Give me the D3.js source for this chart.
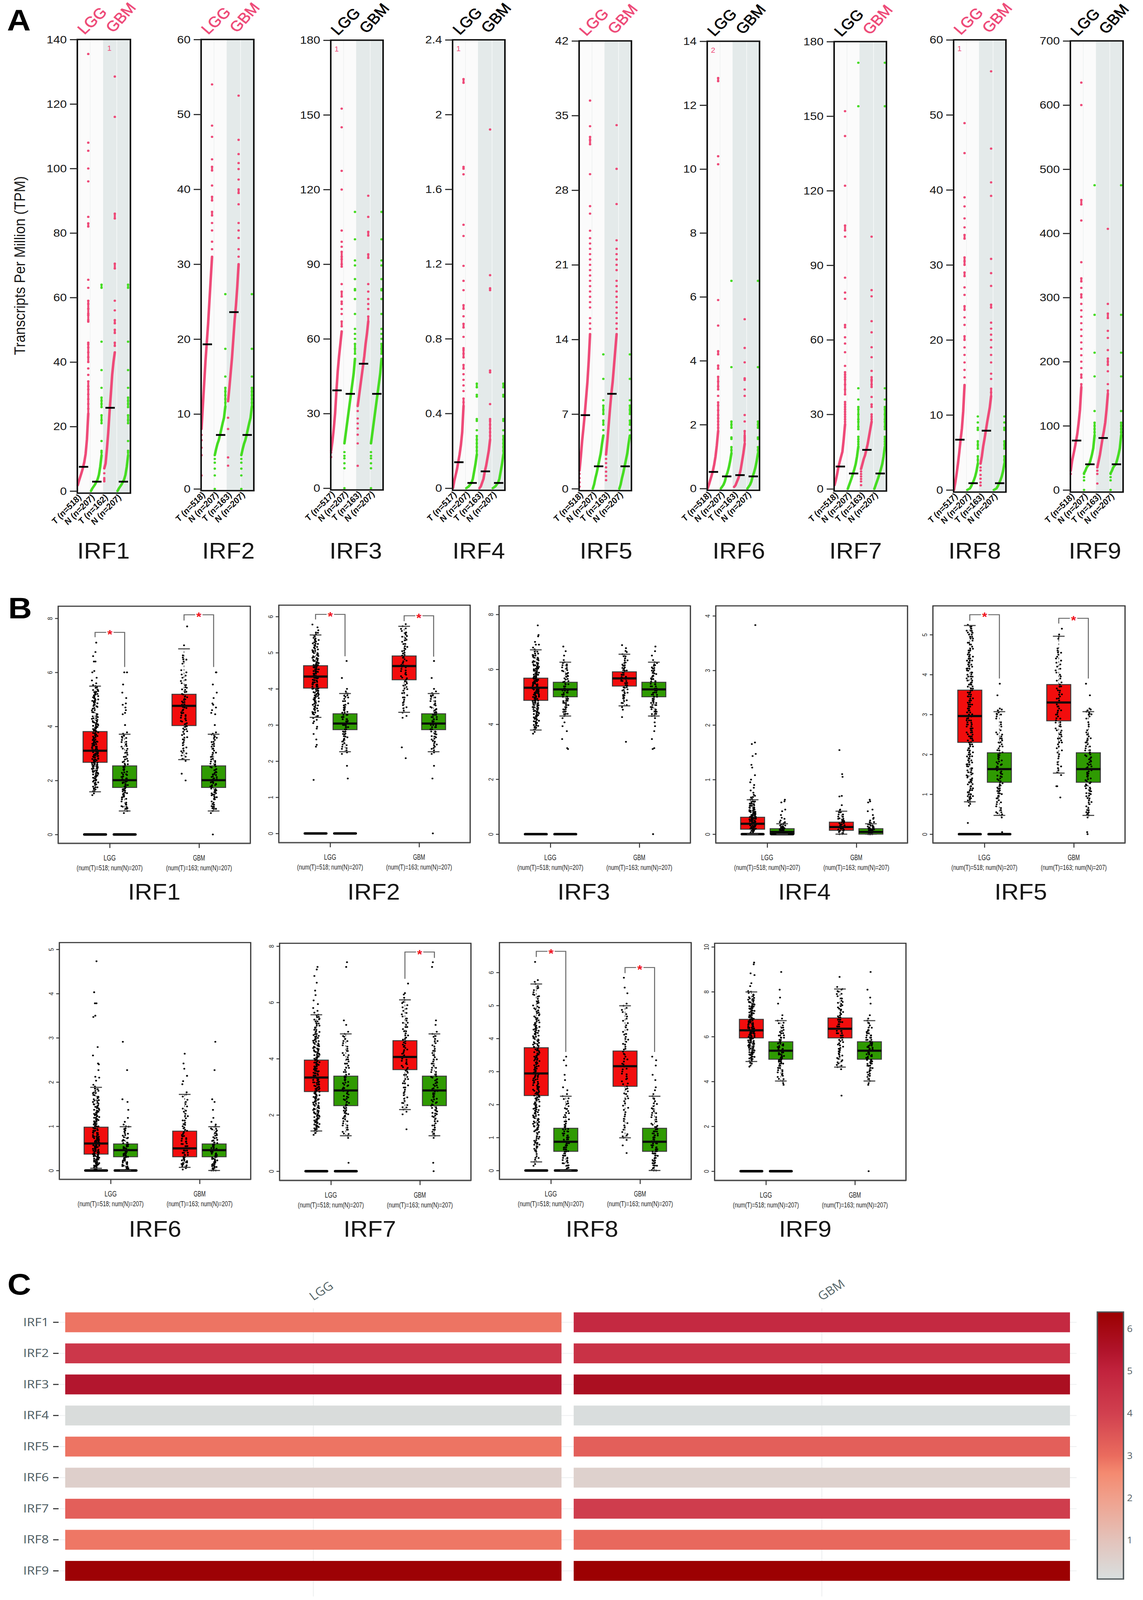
<!DOCTYPE html>
<html lang="en">
<head>
<meta charset="UTF-8">
<title>IRF expression in LGG and GBM</title>
<script src="https://cdn.jsdelivr.net/npm/d3@7"></script>
<style>
    html, body { margin: 0; padding: 0; background: #fff; overflow: hidden; }
    svg { display: block; width: 100vw; height: 100vh; }
    text { font-family: "Liberation Sans", sans-serif; }
</style>
</head>
<body>
<!-- the figure always fills the window, even if the window comes out shorter than asked -->
<svg id="fig" viewBox="0 0 2927 4500" preserveAspectRatio="none"></svg>
<script>
const genes = ["IRF1", "IRF2", "IRF3", "IRF4", "IRF5", "IRF6", "IRF7", "IRF8", "IRF9"];

// panel A: y axis of each dot plot
const tpmMax = [140, 60, 180, 2.4, 42, 14, 180, 60, 700];
const tpmStep = [20, 10, 30, 0.4, 7, 2, 30, 10, 100];
const nLggT = [518, 518, 517, 517, 518, 518, 518, 517, 518];
const nGbmT = [162, 163, 163, 163, 163, 163, 163, 163, 163];
const nNormal = 207;
const sigLgg = [1, 1, 0, 0, 1, 0, 0, 1, 0];
const sigGbm = [1, 1, 0, 0, 1, 0, 1, 1, 0];
const tpmMedianLggT = [7.5, 19.3, 39.3, 0.139, 6.9, 0.52, 9, 6.7, 77];
const tpmMedianNormal = [2.9, 7.2, 37.9, 0.028, 2.1, 0.38, 6.2, 0.9, 40];
const tpmMedianGbmT = [25.8, 23.6, 50, 0.09, 8.9, 0.42, 15.7, 7.9, 81];
// [lone low dots, nine values, dots above the curve]
const dotLggT = [
  [[], [1.8,3.2,4.5,5.8,7.2,9,11.5,16,24], [25.5,27,28.5,30,31.5,32.5,34,36,38,40,41.5,43,44.5,45.5,46,52.5,53,54.5,55,56.5,58,59,63,65.5,82,83,85,96,100,105.5,108,135.5]],
  [[1.8,4.5,5.5,6.5,7.2], [8,11,14,17,19.5,22,25,28,31], [32,33,34.5,35.5,36.5,37,38.5,39,40.5,42.5,43,44,47,48.5,54]],
  [[12.5,14.3], [15,19,24,30,39,47,53,58,63], [65,67,70,72,74,75,77,79,82,89,90,92,93,95,97,99,103.5,120,127.5,145,152.5]],
  [[], [0,0.04,0.07,0.1,0.14,0.18,0.23,0.3,0.44], [0.46,0.48,0.52,0.55,0.58,0.61,0.64,0.66,0.7,0.72,0.74,0.75,0.81,0.86,0.88,0.92,0.96,0.98,1.06,1.11,1.19,1.35,1.41,1.68,1.71,1.72,2.17,2.19]],
  [[0.2,0.6,1,1.4], [1.7,3,4.5,5.7,7,8.5,10,12,14.5], [15,15.5,16,17,17.5,18,18.5,19,19.5,20,20.5,21,21.5,22,22.5,23,23.5,24.2,25.8,26.5,29.5,32.3,32.7,33,34,36.4]],
  [[], [0,0.12,0.26,0.4,0.55,0.75,1,1.35,1.8], [1.9,2,2.1,2.2,2.3,2.45,2.6,2.7,2.9,3.1,3.2,3.35,3.5,3.75,3.85,4.2,4.3,5.1,5.9,10.15,10.4,12.75,12.85]],
  [[], [1.5,3.5,6,8.9,11,13,15,20,26], [27,28,29,30,31,32,33,34,35,38,40,42,44,45,46,47,49.5,55,58.5,61,65,66,76.5,79,85,101.5,104,106,122,142,152]],
  [[], [0,1,2.2,3.5,5,6.7,8.2,10.5,14], [15,16,17,18,19,20,20.5,22,23,24,24.5,26,27,28.5,29,30,30.5,31,33.5,34,35,36.2,37.8,39,44.9,48.9]],
  [[25], [30,45,55,65,76,88,105,125,160], [165,175,180,190,200,210,220,230,240,250,260,270,280,290,300,305,315,325,330,355,420,445,452,600,635]]
];
const dotNormal = [
  [[], [0,0.8,1.4,2,2.8,3.6,5,7.5,11], [12,12.5,15.5,21,22,23.5,26,27,28,29,32,37.5,46.3,63,64]],
  [[0,1.8,2.7,3.5,4], [4.5,5.3,6,6.5,7.2,8,8.8,9.5,11], [11.5,12,12.5,13,13.5,15,18.7,26]],
  [[0,8,10,12,13,14.5], [18,22,26,30,34,38,42,46,52], [54,56,58,60,62,64,70,76,79.5,80,84,89.5,91.5,100,111]],
  [[], [0,0.005,0.01,0.02,0.03,0.05,0.09,0.13,0.18], [0.2,0.22,0.24,0.26,0.28,0.31,0.36,0.37,0.49,0.5,0.54,0.56]],
  [[], [0,0.4,1,1.5,2.1,2.7,3.3,4.2,5], [5.5,6,6.4,7,7.4,7.8,8.3,10.3,12.6]],
  [[], [0,0.06,0.12,0.22,0.38,0.5,0.65,0.85,1.1], [1.2,1.3,1.55,1.6,1.9,2,2.1,3.8,6.5]],
  [[], [0,1.5,3,4.5,6.2,8,10,13,17], [18,19,20,21,24,25,27,28,30,32,33,36,40.5,154,171.5]],
  [[], [0,0.1,0.2,0.5,0.9,1.3,1.8,2.5,3.5], [4,4.5,5.5,6,6.5,8,8.3,9,9.8]],
  [[0,15,20,25], [26,30,35,38,40,47,55,65,85], [90,95,100,105,123,177,214,273,475]]
];
const dotGbmT = [
  [[3,3.5,4,5.5], [7,8.5,13,18,24.5,30,36,40,43], [45,46,49,50,52,53,56,59,69,70.5,84.5,86,116,128.5]],
  [[3.1,4.2,8,9.5], [11.7,13.5,15.5,17.5,20,22.5,24.5,27,30], [31,32,33.5,34.5,35.5,38,39.5,40,41.3,42.7,43.5,44.7,46.6,52.5]],
  [[9,18,21.5,24,26,28,31], [33,37,41,45,49,53,58,62,67], [69,72,74,76,79,82,92.5,94,101.5,103,109,117.5]],
  [[], [0,0.01,0.03,0.05,0.09,0.12,0.16,0.2,0.26], [0.28,0.3,0.32,0.34,0.36,0.37,0.45,0.62,0.63,1.06,1.07,1.14,1.92]],
  [[0.8,1.2,1.6,2,2.4,2.8], [3.2,4.5,6,7.5,8.9,10,11.5,13,14.5], [15,15.5,16,16.5,17,17.5,18,18.5,19,19.5,20.5,21,21.5,22,22.5,23.3,26.7,30,34.1]],
  [[], [0.05,0.1,0.2,0.3,0.42,0.6,0.85,1.1,1.4], [1.5,1.55,1.6,1.65,1.8,2.1,2.3,2.9,3.1,3.4,3.45,3.95,4.4,5.3]],
  [[1.5,3,4,5,6,7], [8,10,12,13.5,15.7,18,21,24,27], [28,29,30,33,34,37,41,42,43.5,44,45,47.5,53,57,63,67.5,77.5,80,101.5]],
  [[0.6,1,1.5,2,2.6,3], [3.5,4.5,5.8,6.8,7.9,9,10,11,12.5], [13,13.5,14.8,15.5,17,18,19,20,20.7,21.5,22.3,24.3,24.7,27.2,28.9,30.8,39.2,41,45.5,55.8]],
  [[10,25,30], [35,45,55,68,81,92,105,125,150], [155,165,185,195,200,205,218,237,248,268,275,290,407]]
];
// small count printed at the top of a panel: [gene, strip, text]
const topCounts = [[0, 2, "1"], [2, 0, "1"], [3, 0, "1"], [5, 0, "2"], [7, 0, "1"]];

// panel B: y axis and box stats [q1, median, q3, lower whisker, upper whisker]
const logMax = [8, 6, 8, 4, 5, 5, 8, 6, 10];
const logStep = [2, 1, 2, 1, 1, 1, 2, 1, 2];
const boxLggT = [
  [2.67,3.1,3.81,1.58,5.49], [4.02,4.34,4.64,3.21,5.49], [4.87,5.33,5.68,3.79,6.71],
  [0.09,0.19,0.31,0,0.63], [2.3,2.96,3.61,0.81,5.23], [0.37,0.61,0.98,0.05,1.88],
  [2.83,3.33,3.95,1.43,5.56], [2.27,2.94,3.72,0.26,5.65], [5.94,6.28,6.77,4.89,7.99]
];
const boxNormal = [
  [1.74,2.01,2.54,0.87,3.71], [2.87,3.04,3.31,2.26,3.87], [5,5.27,5.53,4.3,6.26],
  [0,0.04,0.1,0,0.19], [1.3,1.63,2.04,0.47,3.07], [0.31,0.46,0.6,0,0.99],
  [2.33,2.87,3.38,1.26,4.88], [0.58,0.87,1.28,0,2.25], [4.99,5.37,5.77,4.02,6.71]
];
const boxGbmT = [
  [4.03,4.76,5.19,2.77,6.87], [4.25,4.63,4.91,3.35,5.73], [5.39,5.67,5.91,4.67,6.55],
  [0.07,0.13,0.22,0,0.42], [2.84,3.3,3.75,1.53,4.96], [0.31,0.5,0.89,0.07,1.72],
  [3.61,4.06,4.64,2.19,6.09], [2.55,3.16,3.62,0.99,4.99], [5.94,6.35,6.83,4.64,8.12]
];
// significance brackets [top, left leg end, right leg end], null when not significant
const bracketLgg = [[7.48,7.3,6.2], [6.06,5.92,4.9], null, null, [5.5,5.35,3.9], null, null, [6.64,6.47,3.59], null];
const bracketGbm = [[8.13,7.92,6.2], [6.02,5.87,4.89], null, null, [5.41,5.28,3.9], null, [7.79,6.84,7.58], [6.15,5.98,3.59], null];
const cloudLggT = [
  [1.6,1.75,1.85,2,2.1,2.2,2.3,2.35,2.45,2.5,2.6,2.65,2.7,2.8,2.85,2.9,3,3.05,3.1,3.15,3.2,3.3,3.35,3.4,3.5,3.6,3.7,3.8,3.9,4,4.1,4.2,4.3,4.45,4.6,4.8,4.9,5,5.1,5.2,5.35,5.45,5.7,5.8,6,6.05,6.4,6.4,6.6,6.75,7.1],
  [1.48,2.4,2.45,2.6,2.75,2.9,2.95,3.05,3.1,3.25,3.35,3.45,3.55,3.65,3.72,3.8,3.88,3.95,4,4.06,4.12,4.18,4.24,4.3,4.36,4.42,4.48,4.55,4.6,4.66,4.72,4.8,4.88,4.96,5.05,5.15,5.25,5.35,5.45,5.55,5.62,5.7,5.78],
  [3.8,3.95,4.05,4.15,4.25,4.35,4.45,4.55,4.62,4.7,4.78,4.85,4.92,5,5.06,5.12,5.18,5.24,5.3,5.36,5.42,5.48,5.54,5.6,5.66,5.72,5.8,5.88,5.95,6,6.08,6.18,6.28,6.38,6.5,6.65,6.9,6.9,7,7.2,7.25,7.6],
  [0.02,0.04,0.06,0.08,0.1,0.12,0.14,0.16,0.18,0.2,0.22,0.24,0.26,0.28,0.3,0.33,0.36,0.39,0.42,0.45,0.48,0.52,0.56,0.6,0.63,0.68,0.72,0.76,0.8,0.85,0.9,0.95,1,1.08,1.22,1.27,1.43,1.47,1.65,1.68,3.83],
  [0.28,0.81,0.9,1,1.05,1.2,1.3,1.42,1.55,1.65,1.75,1.85,1.95,2.05,2.15,2.25,2.35,2.45,2.55,2.65,2.75,2.85,2.95,3.05,3.15,3.25,3.35,3.45,3.55,3.65,3.75,3.85,3.95,4.05,4.15,4.25,4.35,4.45,4.55,4.7,4.85,5,5.1,5.15],
  [0.05,0.08,0.12,0.16,0.2,0.24,0.28,0.32,0.36,0.4,0.44,0.48,0.52,0.56,0.6,0.64,0.68,0.72,0.76,0.8,0.85,0.9,0.95,1,1.05,1.1,1.16,1.22,1.28,1.35,1.42,1.5,1.58,1.66,1.75,1.85,2.03,2.1,2.12,2.27,2.4,2.42,2.6,2.79,3.47,3.5,3.78,3.78,4.03,4.73],
  [1.43,1.5,1.6,1.7,1.8,1.9,2,2.1,2.2,2.3,2.4,2.5,2.6,2.7,2.8,2.9,3,3.08,3.16,3.24,3.32,3.4,3.48,3.56,3.64,3.72,3.8,3.9,4,4.1,4.2,4.3,4.4,4.5,4.6,4.7,4.8,4.95,5.1,5.25,5.4,5.56,5.8,5.94,6.07,6.26,6.42,6.7,6.94,7.17,7.26],
  [0.26,0.5,0.72,0.8,0.9,1.1,1.25,1.35,1.45,1.55,1.65,1.75,1.85,1.95,2.05,2.15,2.25,2.35,2.45,2.55,2.65,2.75,2.85,2.95,3.05,3.15,3.25,3.35,3.45,3.55,3.65,3.75,3.85,3.95,4.05,4.15,4.25,4.35,4.45,4.55,4.7,4.85,5,5.2,5.4,5.65,6.32],
  [4.66,4.89,5,5.1,5.2,5.3,5.4,5.5,5.58,5.66,5.74,5.82,5.9,5.98,6.06,6.14,6.22,6.3,6.38,6.46,6.54,6.62,6.7,6.78,6.86,6.95,7.05,7.15,7.25,7.35,7.45,7.55,7.7,7.85,8,8.25,8.38,8.74,8.82,9.22,9.3]
];
const cloudNormal = [
  [0,0.87,0.95,1.05,1.1,1.3,1.4,1.45,1.55,1.6,1.7,1.75,1.85,1.9,1.95,2,2.05,2.15,2.2,2.3,2.4,2.5,2.6,2.7,2.8,2.95,3.1,3.25,3.35,3.5,3.65,3.7,4.05,4.45,4.5,4.6,4.7,4.8,4.85,5.05,5.25,5.55,6,6],
  [0,1.52,1.87,2.2,2.3,2.4,2.5,2.6,2.68,2.75,2.82,2.88,2.94,3,3.05,3.1,3.16,3.22,3.28,3.34,3.42,3.5,3.6,3.72,3.82,3.87,4,4.3,4.77],
  [0,3.1,3.13,3.46,3.75,3.93,4.07,4.3,4.38,4.45,4.55,4.62,4.7,4.78,4.85,4.92,5,5.08,5.15,5.22,5.3,5.38,5.46,5.55,5.65,5.75,5.85,5.95,6.05,6.15,6.26,6.5,6.66,6.83],
  [0,0.01,0.02,0.03,0.04,0.05,0.06,0.07,0.08,0.09,0.1,0.12,0.14,0.16,0.18,0.2,0.22,0.25,0.28,0.3,0.35,0.42,0.45,0.58,0.6,0.63],
  [0,0.05,0.47,0.55,0.6,0.75,0.85,0.95,1.02,1.08,1.15,1.22,1.3,1.38,1.45,1.52,1.6,1.68,1.75,1.82,1.9,1.98,2.05,2.15,2.25,2.35,2.45,2.55,2.75,2.95,3.05,3.07,3.15,3.48,3.77],
  [0,0.03,0.06,0.1,0.14,0.18,0.22,0.26,0.3,0.34,0.38,0.42,0.46,0.5,0.54,0.58,0.62,0.68,0.74,0.8,0.88,0.95,0.99,1.1,1.19,1.37,1.55,1.61,2.27,2.91],
  [0,0.3,1.26,1.4,1.55,1.7,1.85,1.95,2.05,2.15,2.25,2.35,2.45,2.55,2.65,2.75,2.85,2.95,3.05,3.15,3.25,3.35,3.45,3.6,3.75,3.9,4.05,4.2,4.35,4.55,4.7,4.88,5.2,5.36,7.26,7.43],
  [0,0.08,0.15,0.22,0.3,0.38,0.45,0.52,0.58,0.64,0.7,0.76,0.82,0.88,0.94,1,1.06,1.12,1.18,1.25,1.32,1.42,1.55,1.68,1.8,1.95,2.1,2.25,2.43,2.52,2.74,2.9,3.18,3.34,3.45],
  [0,3.85,4.02,4.2,4.35,4.5,4.6,4.7,4.8,4.88,4.96,5.04,5.12,5.2,5.28,5.36,5.44,5.52,5.6,5.68,5.76,5.85,5.95,6.05,6.15,6.3,6.5,6.71,6.95,7.47,7.74,8.09,8.88]
];
const cloudGbmT = [
  [2,2.25,2.8,3,3.1,3.3,3.5,3.6,3.8,3.9,4,4.1,4.2,4.3,4.4,4.5,4.6,4.7,4.8,4.9,5,5.1,5.2,5.35,5.45,5.6,5.8,6,6.4,6.55,7,7.7],
  [2.08,2.38,3.2,3.25,3.4,3.55,3.7,3.82,3.95,4.05,4.15,4.25,4.35,4.45,4.55,4.65,4.72,4.82,4.92,5,5.1,5.18,5.3,5.4,5.5,5.6,5.73],
  [3.36,4.26,4.53,4.7,4.85,4.95,5.05,5.15,5.25,5.35,5.42,5.5,5.58,5.65,5.72,5.8,5.88,5.95,6.05,6.15,6.25,6.4,6.55,6.67,6.77,6.88],
  [0.02,0.04,0.06,0.08,0.1,0.12,0.14,0.16,0.18,0.2,0.22,0.25,0.28,0.32,0.36,0.4,0.45,0.53,0.69,0.7,1.05,1.1,1.54],
  [0.92,1.2,1.2,1.48,1.6,1.75,1.95,2.1,2.25,2.35,2.45,2.55,2.65,2.75,2.85,2.95,3.05,3.15,3.25,3.35,3.45,3.55,3.65,3.75,3.9,4.05,4.2,4.35,4.5,4.6,4.95,5.15],
  [0.07,0.1,0.14,0.18,0.22,0.26,0.3,0.35,0.4,0.45,0.5,0.55,0.6,0.66,0.72,0.78,0.85,0.92,1,1.08,1.18,1.28,1.4,1.55,1.72,1.95,2.02,2.14,2.3,2.42,2.64],
  [1.49,2.02,2.19,2.35,2.5,2.7,2.9,3.05,3.2,3.35,3.5,3.62,3.75,3.88,4,4.12,4.25,4.38,4.5,4.62,4.75,4.9,5.05,5.2,5.35,5.5,5.7,5.9,6.09,6.28,6.33,6.67],
  [0.53,0.76,0.99,1.1,1.3,1.5,1.7,1.9,2.1,2.25,2.4,2.55,2.7,2.85,3,3.15,3.3,3.45,3.6,3.75,3.9,4.05,4.2,4.4,4.6,4.8,4.99,5.37,5.54,5.84],
  [3.37,4.64,4.8,4.95,5.1,5.25,5.4,5.55,5.7,5.85,5.95,6.05,6.15,6.25,6.35,6.45,6.55,6.65,6.75,6.85,7,7.15,7.3,7.45,7.6,7.8,8,8.12,8.66]
];

// panel C: heat values per gene
const heatLgg = [2.9, 4.3, 5.4, 0.2, 2.9, 0.6, 3.3, 2.85, 6.3];
const heatGbm = [4.8, 4.5, 5.7, 0.15, 3.3, 0.55, 4.1, 3.1, 6.35];
const heatTypes = ["LGG", "GBM"];
const heatTicks = [1, 2, 3, 4, 5, 6];
const heatStops = [0.09, 1, 2, 2.6, 3, 4, 5, 5.5, 6.4];
const heatColors = ["#d8dfdf", "#e3c3bb", "#f0a08c", "#f48a70", "#ea6c5e", "#d1404f", "#c1233d", "#b0132a", "#9b0000"];

// layout: [left, right, top, bottom, y of zero, y of axis max]
const framesA = [
  [198,334,111,1387,1381,111], [515,650,111,1380,1375,111], [847,981,113,1378,1373,113],
  [1159,1293,112,1379,1373,112], [1483,1617,115,1380,1374.5,115], [1811,1945,116,1379,1374,116],
  [2136,2270,117,1381,1375,117], [2442,2576,112,1384,1378,112], [2741,2876,115,1384,1378,115]
];
const titleXA = [265, 585, 911, 1226, 1552, 1892, 2191, 2496, 2804];
const framesB = [
  [149,641,1705,2372,2347,1739], [714,1204,1702,2370,2344,1734], [1278,1768,1704,2371,2346,1728],
  [1833,2324,1704,2371,2346,1732], [2389,2881,1704,2371,2346,1785], [152,642,2651,3317,3292,2670],
  [716,1206,2653,3320,3294,2661], [1279,1770,2651,3317,3292,2735], [1830,2320,2653,3320,3294,2663]
];
const titleXB = [395, 957, 1495, 2060, 2614, 397, 947, 1516, 2062];
const titleYB = [2530, 2530, 2530, 2530, 2530, 3478, 3478, 3478, 3478];
const groupPos = [0.192, 0.346, 0.655, 0.809];
const speckY = [0, -6, 6, -11, 11];
const jitter = [-5, 3, -1, 6, -7, 1, 4, -3, 7, -2, 3, -6, 0, 5, -3, 2, -4, 8, -8, 1, -5, 6, -2, 4];

const pink = "#ee4a78", green = "#45dc22", ink = "#161616";
const svg = d3.select("#fig");

function letter(t, x, y) {
    svg.append("text").attr("x", x).attr("y", y).attr("font-size", 84)
        .attr("font-weight", "bold").attr("fill", "#000").text(t);
}
function geneTitle(t, x, y) {
    svg.append("text").attr("x", x).attr("y", y).attr("text-anchor", "middle")
        .attr("font-size", 62).attr("fill", ink).text(t);
}
letter("A", 18, 86);
letter("B", 21, 1739);
letter("C", 19, 3641);

svg.append("text").attr("transform", "translate(64,747) rotate(-90)")
    .attr("text-anchor", "middle").attr("font-size", 39).attr("fill", ink)
    .text("Transcripts Per Million (TPM)");

/////////////////PANEL A/////////////////////////////
genes.forEach(function (gene, g) {
    const [x0, x1, top, bottom, yZero, yMax] = framesA[g];
    const mid = (x0 + x1) / 2;
    const p = svg.append("g");
    const y = d3.scaleLinear().domain([0, tpmMax[g]]).range([yZero, yMax]);
    const strip = d3.scalePoint().domain([0, 1, 2, 3]).range([x0 + 28, x0 + 130]);

    p.append("rect").attr("x", x0).attr("y", top).attr("width", mid - x0).attr("height", bottom - top).attr("fill", "#fbfbfb");
    p.append("rect").attr("x", mid - 2).attr("y", top).attr("width", x1 - mid + 2).attr("height", bottom - top).attr("fill", "#e4eaea");
    p.append("line").attr("x1", strip(0) + 5).attr("x2", strip(0) + 5).attr("y1", top).attr("y2", bottom).attr("stroke", "#f1f3f3").attr("stroke-width", 2);
    p.append("line").attr("x1", strip(2) + 5).attr("x2", strip(2) + 5).attr("y1", top).attr("y2", bottom).attr("stroke", "#f3f6f6").attr("stroke-width", 2);

    const stripData = [dotLggT[g], dotNormal[g], dotGbmT[g], dotNormal[g]];
    const medians = [tpmMedianLggT[g], tpmMedianNormal[g], tpmMedianGbmT[g], tpmMedianNormal[g]];
    const line = d3.line().x(d => d[0]).y(d => y(d[1]));

    stripData.forEach(function (s, k) {
        const [low, curve, tail] = s;
        const cx = strip(k), col = (k % 2 === 0) ? pink : green;
        const curvePts = curve.map((v, i) => [cx - 27 * (1 - i / (curve.length - 1)), v]);
        p.append("path").attr("d", line(curvePts)).attr("fill", "none")
            .attr("stroke", col).attr("stroke-width", 6.5).attr("stroke-linecap", "round");
        // close neighbours above the curve merge into a solid run
        let prev = curve[curve.length - 1];
        tail.forEach(function (v) {
            if (y(prev) - y(v) < 14) {
                p.append("path").attr("d", line([[cx, prev], [cx, v]]))
                    .attr("stroke", col).attr("stroke-width", 5);
            }
            prev = v;
        });
        p.selectAll(null).data(low).enter().append("circle")
            .attr("cx", cx - 27).attr("cy", d => y(d)).attr("r", 3.2).attr("fill", col);
        p.selectAll(null).data(tail).enter().append("circle")
            .attr("cx", cx).attr("cy", d => y(d)).attr("r", 3.2).attr("fill", col);
    });

    p.selectAll(null).data(medians).enter().append("rect")
        .attr("x", (d, i) => strip(i) - 24).attr("y", d => y(d) - 2.5)
        .attr("width", 24).attr("height", 5).attr("fill", "#000");

    p.append("rect").attr("x", x0).attr("y", top).attr("width", x1 - x0).attr("height", bottom - top)
        .attr("fill", "none").attr("stroke", "#111").attr("stroke-width", 4);

    const ticks = d3.range(0, tpmMax[g] + tpmStep[g] / 2, tpmStep[g]);
    const axis = p.append("g").attr("transform", `translate(${x0},0)`)
        .call(d3.axisLeft(y).tickValues(ticks).tickSize(19).tickPadding(8).tickFormat(d => +d.toFixed(1)));
    axis.select(".domain").remove();
    axis.selectAll("line").attr("stroke", "#222").attr("stroke-width", 3);
    axis.selectAll("text").attr("font-size", 31).attr("fill", ink).style("font-family", "Liberation Sans");

    // cancer type headers, pink when significant
    p.append("text").attr("transform", `translate(${x0 + 18},${top - 12}) rotate(-46)`)
        .attr("font-size", 41).attr("fill", sigLgg[g] ? pink : "#000")
        .attr("stroke", sigLgg[g] ? pink : "#000").attr("stroke-width", 0.9).text("LGG");
    p.append("text").attr("transform", `translate(${x0 + 92},${top - 17}) rotate(-50)`)
        .attr("font-size", 41).attr("fill", sigGbm[g] ? pink : "#000")
        .attr("stroke", sigGbm[g] ? pink : "#000").attr("stroke-width", 0.9).text("GBM");

    const sampleLabels = [`T (n=${nLggT[g]})`, `N (n=${nNormal})`, `T (n=${nGbmT[g]})`, `N (n=${nNormal})`];
    sampleLabels.forEach(function (t, k) {
        p.append("text").attr("transform", `translate(${strip(k) - 16},${bottom + 13}) rotate(-48)`)
            .attr("text-anchor", "end").attr("font-size", 23).attr("font-weight", "bold")
            .attr("font-style", "italic").attr("fill", "#111").text(t);
    });

    geneTitle(gene, titleXA[g], 1571);
});

topCounts.forEach(function (c) {
    const [g, k, t] = c;
    const left = framesA[g][0], top = framesA[g][2];
    svg.append("text").attr("x", left + 15 + (k === 2 ? 67 : 0)).attr("y", top + 32)
        .attr("text-anchor", "middle").attr("font-size", 20).attr("fill", pink).text(t);
});

/////////////////PANEL B/////////////////////////////
genes.forEach(function (gene, g) {
    const [x0, x1, top, bottom, yZero, yMax] = framesB[g];
    const p = svg.append("g");
    const x = d3.scaleLinear().domain([0, 1]).range([x0, x1]);
    const y = d3.scaleLinear().domain([0, logMax[g]]).range([yZero, yMax]);
    const boxW = 0.125 * (x1 - x0);

    p.append("rect").attr("x", x0).attr("y", top).attr("width", x1 - x0).attr("height", bottom - top)
        .attr("fill", "#fff").attr("stroke", "#333").attr("stroke-width", 3);
    p.append("line").attr("x1", x0).attr("x2", x1).attr("y1", bottom).attr("y2", bottom)
        .attr("stroke", "#555").attr("stroke-width", 4);

    const yAxis = p.append("g").attr("transform", `translate(${x0},0)`)
        .call(d3.axisLeft(y).tickValues(d3.range(0, logMax[g] + 1, logStep[g])).tickSize(8).tickFormat(d3.format("d")));
    yAxis.select(".domain").remove();
    yAxis.selectAll("line").attr("stroke", "#333").attr("stroke-width", 2.5);
    yAxis.selectAll("text").attr("transform", "rotate(-90)").attr("x", 0).attr("y", -15).attr("dy", 0)
        .attr("text-anchor", "middle").attr("font-size", 16).attr("fill", "#222")
        .style("font-family", "Liberation Sans");

    const xAxis = p.append("g").attr("transform", `translate(0,${bottom})`)
        .call(d3.axisBottom(x).tickValues([0.268, 0.733]).tickSize(13).tickFormat(""));
    xAxis.select(".domain").remove();
    xAxis.selectAll("line").attr("stroke", "#333").attr("stroke-width", 2.5);

    const groupData = [
        [boxLggT[g], cloudLggT[g], "#f20d0d", 5],
        [boxNormal[g], cloudNormal[g], "#2f9a02", 3],
        [boxGbmT[g], cloudGbmT[g], "#f20d0d", 3],
        [boxNormal[g], cloudNormal[g], "#2f9a02", 3]
    ];
    groupData.forEach(function (grp, k) {
        const [stat, cloud, col, specks] = grp;
        const [q1, med, q3, lo, hi] = stat;
        const cx = x(groupPos[k]);
        p.append("line").attr("x1", cx).attr("x2", cx).attr("y1", y(lo)).attr("y2", y(hi))
            .attr("stroke", "#666").attr("stroke-width", 2).attr("stroke-dasharray", "5 5");
        p.append("rect").attr("x", cx - boxW / 2).attr("y", y(q3)).attr("width", boxW).attr("height", y(q1) - y(q3))
            .attr("fill", col).attr("stroke", "#3a3a3a").attr("stroke-width", 2.5);
        if (k < 2) {
            p.append("rect").attr("x", cx - boxW / 2).attr("y", yZero - 3.5).attr("width", boxW).attr("height", 7)
                .attr("rx", 3.5).attr("fill", "#000");
        }
        // a value inside the whiskers stands for a small clump of samples
        cloud.forEach(function (v, i) {
            const n = (v >= lo && v <= hi) ? specks : 1;
            for (let s = 0; s < n; s++) {
                p.append("circle")
                    .attr("cx", cx + jitter[(i * 5 + s * 7 + k * 3) % jitter.length])
                    .attr("cy", Math.min(y(v) + speckY[s], yZero))
                    .attr("r", 2.5).attr("fill", "#000");
            }
        });
        p.append("rect").attr("x", cx - boxW / 2).attr("y", y(med) - 3).attr("width", boxW).attr("height", 6).attr("fill", "#0a0a0a");
        [lo, hi].forEach(function (v) {
            p.append("line").attr("x1", cx - 15).attr("x2", cx + 15).attr("y1", y(v)).attr("y2", y(v))
                .attr("stroke", "#444").attr("stroke-width", 3);
        });
    });

    [[bracketLgg[g], 0, 1], [bracketGbm[g], 2, 3]].forEach(function (b) {
        const [br, a, c] = b;
        if (!br) return;
        const xa = x(groupPos[a]), xc = x(groupPos[c]);
        p.append("path").attr("d", `M${xa},${y(br[1])}V${y(br[0])}H${xc}V${y(br[2])}`)
            .attr("fill", "none").attr("stroke", "#666").attr("stroke-width", 2.5);
        p.append("text").attr("x", (xa + xc) / 2).attr("y", y(br[0]) + 18).attr("text-anchor", "middle")
            .attr("font-size", 34).attr("font-weight", "bold").attr("fill", "#f0141e")
            .attr("stroke", "#fff").attr("stroke-width", 5).attr("paint-order", "stroke").text("*");
    });

    [[0.268, "LGG", 518], [0.733, "GBM", 163]].forEach(function (t) {
        p.append("text").attr("x", x(t[0])).attr("y", bottom + 48).attr("text-anchor", "middle")
            .attr("font-size", 22).attr("textLength", 31).attr("lengthAdjust", "spacingAndGlyphs")
            .attr("fill", "#222").text(t[1]);
        p.append("text").attr("x", x(t[0])).attr("y", bottom + 76).attr("text-anchor", "middle")
            .attr("font-size", 20).attr("textLength", 169).attr("lengthAdjust", "spacingAndGlyphs")
            .attr("fill", "#222").text(`(num(T)=${t[2]}; num(N)=${nNormal})`);
    });

    geneTitle(gene, titleXB[g], titleYB[g]);
});

/////////////////PANEL C/////////////////////////////
const heatColor = d3.scaleLinear().domain(heatStops).range(heatColors);
const heatX = d3.scaleBand().domain(heatTypes).range([167, 2740]).paddingInner(0.024);
const heatY = d3.scaleBand().domain(genes).range([3691, 4446]).paddingInner(0.36);
const heatG = svg.append("g");

heatTypes.forEach(function (t) {
    const cx = heatX(t) + heatX.bandwidth() / 2;
    heatG.append("line").attr("x1", cx).attr("x2", cx).attr("y1", 3680).attr("y2", 4490)
        .attr("stroke", "#eceeef").attr("stroke-width", 2);
    heatG.append("text").attr("transform", `translate(${cx},3659) rotate(-35)`)
        .attr("font-size", 33).attr("fill", "#566669").style("font-family", "Open Sans").text(t);
});
genes.forEach(function (gene) {
    const cy = heatY(gene) + heatY.bandwidth() / 2;
    heatG.append("line").attr("x1", 150).attr("x2", 2757).attr("y1", cy).attr("y2", cy)
        .attr("stroke", "#eceeef").attr("stroke-width", 2);
});
const heatAxis = heatG.append("g").attr("transform", "translate(150,0)")
    .call(d3.axisLeft(heatY).tickSize(14).tickPadding(11));
heatAxis.select(".domain").remove();
heatAxis.selectAll("line").attr("stroke", "#333").attr("stroke-width", 3);
heatAxis.selectAll("text").attr("font-size", 33).attr("fill", "#4a5a60").style("font-family", "Open Sans");

[heatLgg, heatGbm].forEach(function (vals, c) {
    heatG.selectAll(null).data(vals).enter().append("rect")
        .attr("x", heatX(heatTypes[c])).attr("y", (d, i) => heatY(genes[i]))
        .attr("width", heatX.bandwidth()).attr("height", heatY.bandwidth())
        .attr("fill", d => heatColor(d));
});

const barY = d3.scaleLinear().domain([0.09, 6.4]).range([4441, 3690]);
const grad = svg.append("defs").append("linearGradient").attr("id", "heatBar")
    .attr("x1", 0).attr("x2", 0).attr("y1", 1).attr("y2", 0);
heatStops.forEach(function (v, i) {
    grad.append("stop").attr("offset", (v - 0.09) / (6.4 - 0.09)).attr("stop-color", heatColors[i]);
});
heatG.append("rect").attr("x", 2810).attr("y", 3690).attr("width", 67).attr("height", 751)
    .attr("fill", "url(#heatBar)").attr("stroke", "#4d5558").attr("stroke-width", 3.5);
const barAxis = heatG.append("g").attr("transform", "translate(2877,0)")
    .call(d3.axisRight(barY).tickValues(heatTicks).tickSize(0).tickPadding(9).tickFormat(d3.format("d")));
barAxis.select(".domain").remove();
barAxis.selectAll("text").attr("font-size", 25).attr("fill", "#566166").style("font-family", "Open Sans");
</script>
</body>
</html>
